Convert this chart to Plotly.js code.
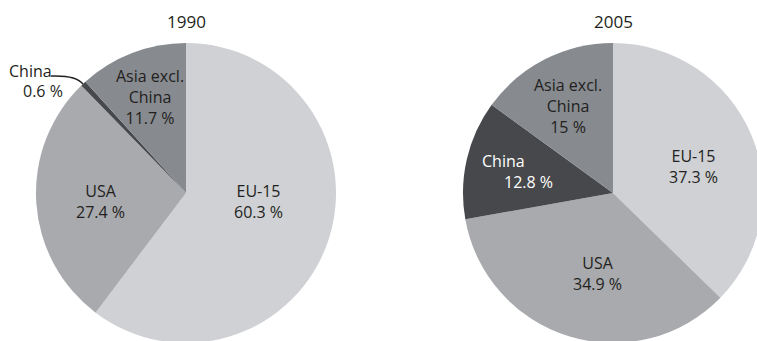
<!DOCTYPE html>
<html><head><meta charset="utf-8">
<script src="https://cdn.plot.ly/plotly-3.0.1.min.js"></script>
<style>html,body{margin:0;padding:0;overflow:hidden;background:#fff}#chart{width:770px;height:350px}</style>
</head><body><div id="chart"></div>
<script>
const years = ["1990", "2005"];
const regions = ["EU-15", "USA", "China", "Asia excl. China"];
const regionLabels = ["EU-15", "USA", "China", "Asia excl.<br>China"];
const shares1990 = [60.3, 27.4, 0.6, 11.7];
const shares2005 = [37.3, 34.9, 12.8, 15];
const colors = ["#cfd1d4", "#a8aaae", "#47484c", "#878a8f"];

const W = 770, H = 350;
const px = x => x / W, py = y => 1 - y / H;
const font = {family: "Open Sans, sans-serif", size: 16, color: "#231f20"};

function pie(values, x0, x1, y0, y1) {
  return {
    type: "pie", values: values, labels: regions, sort: false, direction: "clockwise", rotation: 0,
    marker: {colors: colors, line: {width: 0}}, textinfo: "none", hoverinfo: "label+percent",
    domain: {x: [px(x0), px(x1)], y: [py(y1), py(y0)]}, showlegend: false
  };
}
const data = [pie(shares1990, 36, 336, 43, 343), pie(shares2005, 463, 763, 43, 343)];

const fmt = v => v + " %";
function ann(x, y, text, color) {
  return {xref: "paper", yref: "paper", x: px(x), y: py(y), text: text, showarrow: false,
    xanchor: "center", yanchor: "middle", align: "center",
    font: Object.assign({}, font, color ? {color: color} : {})};
}
const annotations = [
  ann(186, 22, years[0], null),
  ann(613, 22, years[1], null),
  // 1990
  ann(258, 201, regions[0] + "<br>" + fmt(shares1990[0])),
  ann(101, 201, regions[1] + "<br>" + fmt(shares1990[1])),
  ann(150, 97, regionLabels[3] + "<br>" + fmt(shares1990[3])),
  ann(30, 71, regions[2]),
  ann(43, 91, fmt(shares1990[2])),
  // 2005
  ann(693, 167, regions[0] + "<br>" + fmt(shares2005[0])),
  ann(597, 273, regions[1] + "<br>" + fmt(shares2005[1])),
  ann(568, 106, regionLabels[3] + "<br>" + fmt(shares2005[3])),
  ann(503, 161, regions[2], "#ffffff"),
  ann(528, 182, fmt(shares2005[2]), "#ffffff")
];
annotations.forEach(a => { if (a.font.size === 16 && (a.text === years[0] || a.text === years[1])) a.font.size = 17; });

const shapes = [{
  type: "path", xref: "paper", yref: "paper",
  path: `M ${px(51)} ${py(76)} Q ${px(76)} ${py(75)} ${px(83)} ${py(84)}`,
  line: {color: "#231f20", width: 1.5}
}];

Plotly.newPlot("chart", data, {
  width: W, height: H, margin: {l: 0, r: 0, t: 0, b: 0},
  paper_bgcolor: "#ffffff", annotations: annotations, shapes: shapes
}, {displayModeBar: false, staticPlot: true});
</script></body></html>
